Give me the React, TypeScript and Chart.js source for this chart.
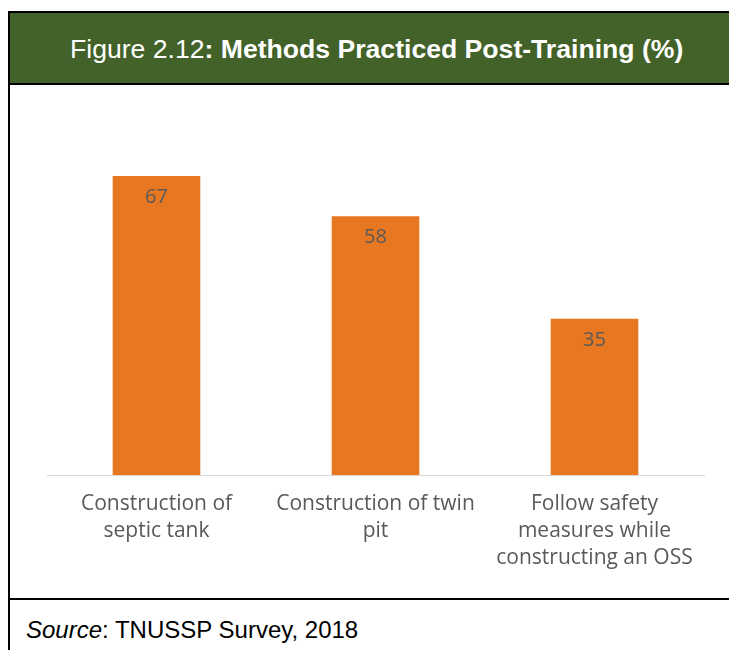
import React, { useEffect, useRef } from 'react';
import { Chart, registerables } from 'chart.js';

Chart.register(...registerables);

const categories: string[][] = [
  ['Construction of', 'septic tank'],
  ['Construction of twin', 'pit'],
  ['Follow safety', 'measures while', 'constructing an OSS'],
];
const values: number[] = [67, 58, 35];
const yMax = 80;
const titlePrefix = 'Figure 2.12';
const titleBold = ': Methods Practiced Post-Training (%)';
const sourceLabel = 'Source';
const sourceText = ': TNUSSP Survey, 2018';

const BAR_COLOR = '#E87722';
const TEXT_GRAY = '#595959';
const HEADER_GREEN = '#426229';

const valueLabelPlugin = {
  id: 'valueLabels',
  afterDatasetsDraw(chart: any) {
    const ctx = chart.ctx;
    const meta = chart.getDatasetMeta(0);
    const data = chart.data.datasets[0].data as number[];
    ctx.save();
    ctx.font = '20px "Open Sans"';
    ctx.fillStyle = TEXT_GRAY;
    ctx.textAlign = 'center';
    ctx.textBaseline = 'middle';
    meta.data.forEach((bar: any, i: number) => {
      ctx.fillText(String(data[i]), bar.x, bar.y + 21);
    });
    ctx.restore();
  },
};

export default function App() {
  const canvasRef = useRef<HTMLCanvasElement | null>(null);

  useEffect(() => {
    document.documentElement.style.overflow = 'hidden';
    document.body.style.overflow = 'hidden';
    if (!canvasRef.current) return;
    const chart = new Chart(canvasRef.current, {
      type: 'bar',
      data: {
        labels: categories,
        datasets: [
          {
            data: values,
            backgroundColor: BAR_COLOR,
            borderWidth: 0,
            categoryPercentage: 1,
            barPercentage: 0.4,
          },
        ],
      },
      options: {
        animation: false,
        responsive: false,
        maintainAspectRatio: false,
        layout: { padding: { left: 37, right: 25, top: 33, bottom: 0 } },
        plugins: {
          legend: { display: false },
          tooltip: { enabled: false },
          title: { display: false },
        },
        scales: {
          x: {
            grid: { display: false, drawTicks: false },
            border: { display: true, color: '#d9d9d9', width: 1 },
            ticks: {
              color: TEXT_GRAY,
              font: { family: '"Open Sans"', size: 21, lineHeight: 27 / 21 },
              padding: 16,
              maxRotation: 0,
              autoSkip: false,
            },
            afterFit: (s: any) => {
              s.height = 123;
            },
          },
          y: { display: false, min: 0, max: yMax },
        },
      },
      plugins: [valueLabelPlugin],
    });
    return () => chart.destroy();
  }, []);

  return (
    <div
      style={{
        position: 'fixed',
        left: 0,
        top: 0,
        width: 729,
        height: 650,
        overflow: 'hidden',
        background: '#fff',
      }}
    >
      <div
        style={{
          position: 'absolute',
          left: 8,
          top: 11,
          width: 760,
          height: 70,
          border: '2px solid #000',
          background: HEADER_GREEN,
          boxSizing: 'content-box',
        }}
      >
        <div
          style={{
            position: 'absolute',
            left: 60,
            top: 1,
            height: 70,
            lineHeight: '70px',
            color: '#fff',
            fontFamily: '"Liberation Sans", Arial, sans-serif',
            fontSize: 26.6,
            whiteSpace: 'nowrap',
          }}
        >
          {titlePrefix}
          <b>{titleBold}</b>
        </div>
      </div>
      <div
        style={{
          position: 'absolute',
          left: 8,
          top: 85,
          width: 760,
          height: 513,
          borderLeft: '2px solid #000',
          borderRight: '2px solid #000',
          borderBottom: '2px solid #000',
          background: '#fff',
        }}
      >
        <canvas
          ref={canvasRef}
          width={719}
          height={513}
          style={{ position: 'absolute', left: 0, top: 0, width: 719, height: 513 }}
        />
      </div>
      <div
        style={{
          position: 'absolute',
          left: 8,
          top: 600,
          width: 760,
          height: 60,
          borderLeft: '2px solid #000',
        }}
      >
        <div
          style={{
            position: 'absolute',
            left: 16,
            top: 16,
            lineHeight: '28px',
            fontFamily: '"Liberation Sans", Arial, sans-serif',
            fontSize: 24,
            color: '#000',
            whiteSpace: 'nowrap',
          }}
        >
          <i>{sourceLabel}</i>
          {sourceText}
        </div>
      </div>
    </div>
  );
}
